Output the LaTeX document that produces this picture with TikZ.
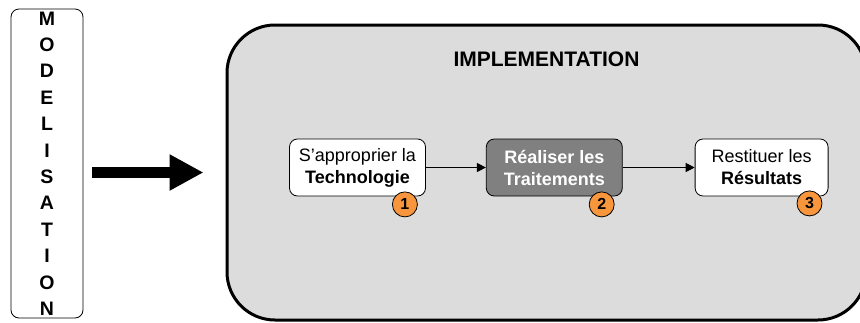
\documentclass[tikz,border=0pt]{standalone}
\usepackage{fontspec}
\setmainfont{Liberation Sans}
\usetikzlibrary{arrows.meta,positioning,calc}
\definecolor{implgray}{RGB}{220,220,220}
\definecolor{traitgray}{RGB}{128,128,128}
\definecolor{pastille}{RGB}{247,150,60}

\begin{document}
\begin{tikzpicture}[x=1pt, y=-1pt,
    etape/.style={draw, rounded corners=8pt, fill=#1, minimum height=57pt, minimum width=136pt, align=center, inner sep=2pt, font=\fontsize{18}{22}\selectfont, line width=0.8pt},
    numero/.style={circle, draw, line width=0.8pt, fill=pastille, minimum size=25pt, inner sep=0pt, font=\fontsize{16}{16}\selectfont\bfseries},
    fleche/.style={-{Triangle[length=9pt,width=9pt]}, line width=1.2pt},
    grossefleche/.style={-{Triangle[length=34pt,width=34pt]}, line width=11pt}
]
\useasboundingbox (0,0) rectangle (860,322);

\node[draw, rounded corners=8pt, line width=0.8pt, minimum width=72pt, minimum height=309pt, align=center, inner sep=0pt,
      font=\fontsize{19.5}{26.4}\selectfont\bfseries] (modbox) at (47,163.5)
      {M\\O\\D\\E\\L\\I\\S\\A\\T\\I\\O\\N};

\node[draw, rounded corners=48pt, line width=3pt, fill=implgray, minimum width=639pt, minimum height=295pt] (impl) at (546.5,172.5) {};
\node[font=\fontsize{21}{21}\selectfont\bfseries] (titre) at ($(impl.north)+(0,35.5)$) {IMPLEMENTATION};

\node[etape=white] (techno) at (357.5,167.5) {S\symbol{39}approprier la\\\textbf{Technologie}};
\node[etape=traitgray, right=60pt of techno, text=white, font=\fontsize{18}{22}\selectfont\bfseries] (traite) {R\'ealiser les\\Traitements};
\node[etape=white, right=72pt of traite, minimum width=133pt] (result) {Restituer les\\\textbf{R\'esultats}};

\node[numero] (n1) at ($(techno.south east)+(-21,8)$) {1};
\node[numero] (n2) at ($(traite.south east)+(-21,8)$) {2};
\node[numero] (n3) at ($(result.south east)+(-19,7)$) {3};

\draw[fleche] (techno) -- (traite);
\draw[fleche] (traite) -- (result);
\draw[grossefleche, shorten <=9pt, shorten >=22pt] (modbox.east |- impl.west) -- (impl.west);
\end{tikzpicture}
\end{document}
